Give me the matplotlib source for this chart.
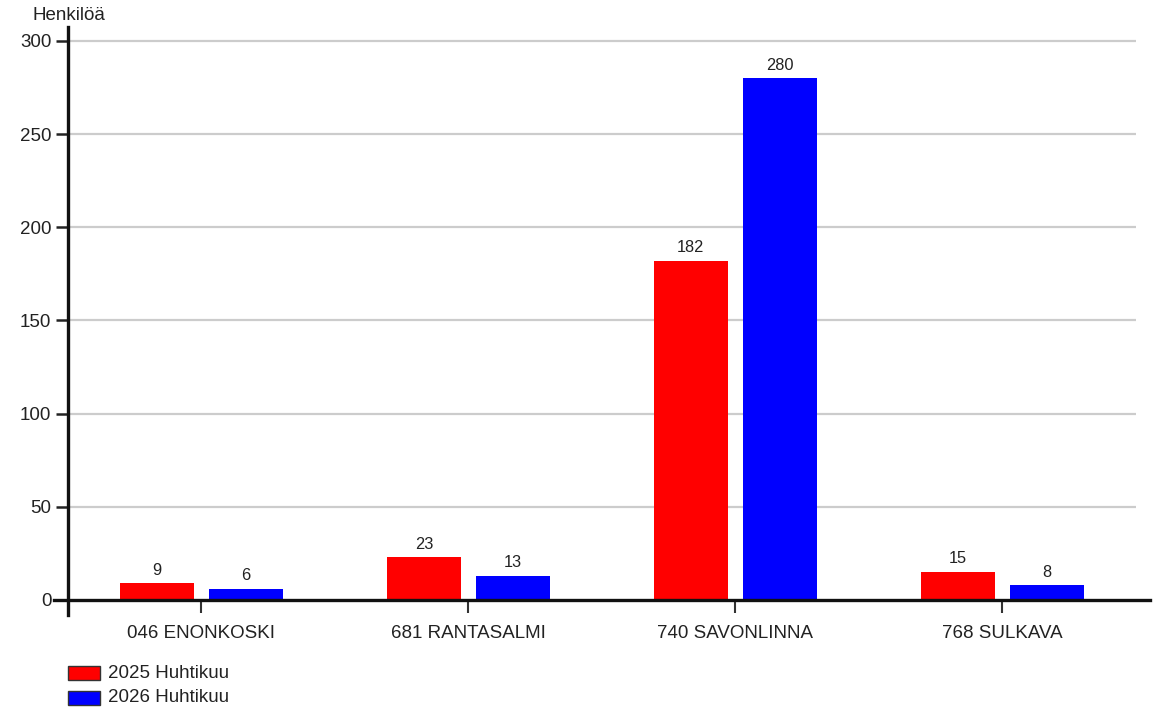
import matplotlib
matplotlib.use("Agg")
import matplotlib.pyplot as plt
from matplotlib.patches import Rectangle
from matplotlib.lines import Line2D
import numpy as np

plt.rcParams['font.family'] = ['Liberation Sans', 'DejaVu Sans']

categories = ["046 ENONKOSKI", "681 RANTASALMI", "740 SAVONLINNA", "768 SULKAVA"]
series_names = ["2025 Huhtikuu", "2026 Huhtikuu"]
values_2025 = [9, 23, 182, 15]
values_2026 = [6, 13, 280, 8]
series_values = [values_2025, values_2026]
colors = ["#ff0000", "#0000ff"]
yticks = [0, 50, 100, 150, 200, 250, 300]
ylabel = "Henkilöä"

W, H = 1158, 708
fig = plt.figure(figsize=(W / 100, H / 100), dpi=100)
L, R, T, B = 68, 1136, 27, 600
ax = fig.add_axes([L / W, 1 - B / H, (R - L) / W, (B - T) / H])

x = np.arange(len(categories))
width = 0.277
offset = 0.167
for i, (name, vals) in enumerate(zip(series_names, series_values)):
    pos = x + (-offset if i == 0 else offset)
    bars = ax.bar(pos, vals, width=width, color=colors[i], zorder=3)
    for b, v in zip(bars, vals):
        ax.annotate(str(v), (b.get_x() + b.get_width() / 2, v),
                    xytext=(0, 4), textcoords="offset points",
                    ha="center", va="bottom", fontsize=11.8, color="#222222")

ax.set_xlim(-0.5, 3.5)
ax.set_ylim(0, 307.5)
ax.set_yticks(yticks)
ax.set_yticklabels([str(t) for t in yticks], fontsize=13.5, color="#222222")
ax.set_xticks(x)
ax.set_xticklabels(categories, fontsize=13.5, color="#222222")

for t in yticks[1:]:
    ax.axhline(t, color="#cccccc", lw=1.6, zorder=1)

for s in ax.spines.values():
    s.set_visible(False)

# axis lines (extended like the reference)
ax.add_line(Line2D([-14 / (R - L), (1150 - L) / (R - L)], [0, 0],
                   transform=ax.transAxes, color="#111111", lw=2.4,
                   clip_on=False, zorder=5))
ax.add_line(Line2D([0, 0], [-15 / (B - T), 1], transform=ax.transAxes,
                   color="#111111", lw=2.4, clip_on=False, zorder=5))

ax.tick_params(axis="y", length=9, width=1.8, color="#222222", pad=3)
ax.tick_params(axis="x", length=9, width=1.5, color="#333333", pad=9)

fig.text(32 / W, 1 - 15 / H, ylabel, fontsize=13.5, color="#222222",
         ha="left", va="center")

# legend
for i, name in enumerate(series_names):
    yc = 673 + i * 25
    fig.patches.append(Rectangle((68 / W, 1 - (yc + 7) / H), 32 / W, 14 / H,
                                 transform=fig.transFigure, facecolor=colors[i],
                                 edgecolor="#333333", lw=1.0))
    fig.text(108 / W, 1 - yc / H, name, fontsize=13.5, color="#222222",
             ha="left", va="center")

fig.savefig("out.png", dpi=100)
